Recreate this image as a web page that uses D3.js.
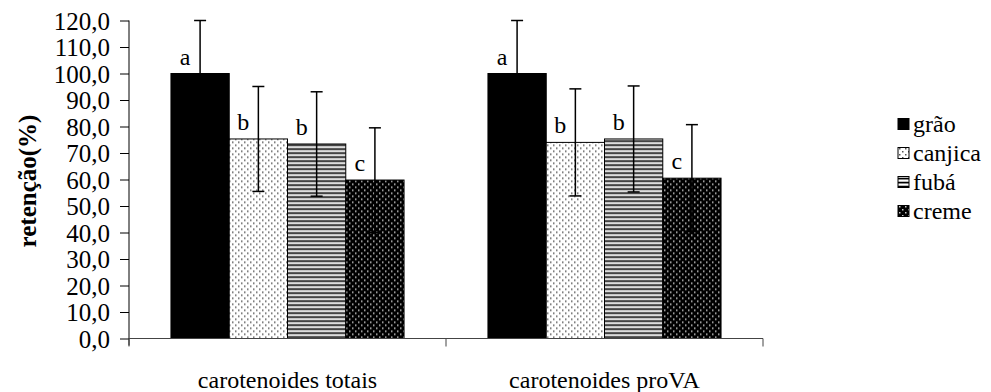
<!DOCTYPE html>
<html>
<head>
<meta charset="utf-8">
<script src="https://cdn.jsdelivr.net/npm/d3@7"></script>
<style>
  body { margin: 0; background: #fff; }
</style>
</head>
<body>
<div id="chart"></div>
<script>
// data
var categories = ["carotenoides totais", "carotenoides proVA"];
var series = ["grão", "canjica", "fubá", "creme"];
var graoValues = [100, 100], graoErr = [20, 20];
var canjicaValues = [75.3, 74.0], canjicaErr = [19.8, 20.2];
var fubaValues = [73.4, 75.3], fubaErr = [19.7, 20.0];
var cremeValues = [59.8, 60.5], cremeErr = [19.7, 20.2];
var letters = [["a", "a"], ["b", "b"], ["b", "b"], ["c", "c"]];
var yTicks = [0, 10, 20, 30, 40, 50, 60, 70, 80, 90, 100, 110, 120];

var allValues = [graoValues, canjicaValues, fubaValues, cremeValues];
var allErr = [graoErr, canjicaErr, fubaErr, cremeErr];

var FONT = "'Liberation Serif', 'Times New Roman', serif";
var width = 991, height = 392;
var margin = {top: 20.5, right: 228, bottom: 53.5, left: 129};

var svg = d3.select("#chart").append("svg")
    .attr("width", width)
    .attr("height", height)
    .style("font-family", FONT);

// patterns
var defs = svg.append("defs");

var pCanjica = defs.append("pattern").attr("id", "p-canjica")
    .attr("patternUnits", "userSpaceOnUse").attr("width", 6).attr("height", 6);
pCanjica.append("rect").attr("width", 6).attr("height", 6).attr("fill", "#fff");
pCanjica.append("rect").attr("x", 1).attr("y", 1).attr("width", 1.5).attr("height", 1.5).attr("fill", "#555");
pCanjica.append("rect").attr("x", 4).attr("y", 4).attr("width", 1.5).attr("height", 1.5).attr("fill", "#555");

var pFuba = defs.append("pattern").attr("id", "p-fuba")
    .attr("patternUnits", "userSpaceOnUse").attr("width", 4).attr("height", 4);
pFuba.append("rect").attr("width", 4).attr("height", 4).attr("fill", "#fff");
pFuba.append("rect").attr("y", 0).attr("width", 4).attr("height", 1).attr("fill", "#000");
pFuba.append("rect").attr("y", 1).attr("width", 4).attr("height", 1).attr("fill", "#888");
pFuba.append("rect").attr("y", 3).attr("width", 4).attr("height", 1).attr("fill", "#bbb");

var pCreme = defs.append("pattern").attr("id", "p-creme")
    .attr("patternUnits", "userSpaceOnUse").attr("width", 6).attr("height", 6);
pCreme.append("rect").attr("width", 6).attr("height", 6).attr("fill", "#000");
pCreme.append("rect").attr("x", 1).attr("y", 1).attr("width", 1.5).attr("height", 1.5).attr("fill", "#ccc");
pCreme.append("rect").attr("x", 4).attr("y", 4).attr("width", 1.5).attr("height", 1.5).attr("fill", "#ccc");

var fills = ["#000", "url(#p-canjica)", "url(#p-fuba)", "url(#p-creme)"];

var plotW = width - margin.left - margin.right,
    plotH = height - margin.top - margin.bottom;

var g = svg.append("g")
    .attr("transform", "translate(" + margin.left + "," + margin.top + ")");

var x0 = d3.scaleBand().domain(categories).range([0, plotW]).padding(0);
var x1 = d3.scaleBand().domain(series).range([0, x0.bandwidth()])
    .paddingInner(0).paddingOuter(0.72);
var y = d3.scaleLinear().domain([0, 120]).range([plotH, 0]);

// bars
var data = [];
categories.forEach(function(c, ci) {
  series.forEach(function(s, si) {
    data.push({cat: c, ser: s, si: si, v: allValues[si][ci], e: allErr[si][ci], lab: letters[si][ci]});
  });
});

g.selectAll(".bar")
  .data(data)
  .enter().append("rect")
    .attr("class", "bar")
    .attr("x", function(d) { return x0(d.cat) + x1(d.ser); })
    .attr("y", function(d) { return y(d.v); })
    .attr("width", x1.bandwidth())
    .attr("height", function(d) { return plotH - y(d.v); })
    .attr("fill", function(d) { return fills[d.si]; })
    .attr("stroke", "#000")
    .attr("stroke-width", 1);

// error bars
var eb = g.selectAll(".err")
  .data(data)
  .enter().append("g")
    .attr("class", "err")
    .attr("transform", function(d) { return "translate(" + (x0(d.cat) + x1(d.ser) + x1.bandwidth() / 2) + ",0)"; });
eb.append("line")
    .attr("y1", function(d) { return y(d.v - d.e); })
    .attr("y2", function(d) { return y(d.v + d.e); })
    .attr("stroke", "#000").attr("stroke-width", 1.5);
eb.append("line")
    .attr("x1", -6).attr("x2", 6)
    .attr("y1", function(d) { return y(d.v + d.e); })
    .attr("y2", function(d) { return y(d.v + d.e); })
    .attr("stroke", "#000").attr("stroke-width", 1.5);
eb.append("line")
    .attr("x1", -6).attr("x2", 6)
    .attr("y1", function(d) { return y(d.v - d.e); })
    .attr("y2", function(d) { return y(d.v - d.e); })
    .attr("stroke", "#000").attr("stroke-width", 1.5);

// letters
g.selectAll(".lab")
  .data(data)
  .enter().append("text")
    .attr("class", "lab")
    .attr("x", function(d) { return x0(d.cat) + x1(d.ser) + x1.bandwidth() / 2 - 15; })
    .attr("y", function(d) { return y(d.v) - 9; })
    .attr("text-anchor", "middle")
    .style("font-family", FONT)
    .style("font-size", "24px")
    .text(function(d) { return d.lab; });

// y axis
var yAxis = g.append("g")
    .call(d3.axisLeft(y).tickValues(yTicks).tickSize(9).tickPadding(10)
      .tickFormat(function(d) { return d3.format(".1f")(d).replace(".", ","); }));
yAxis.attr("font-family", null).attr("font-size", null);
yAxis.select(".domain").remove();
yAxis.append("line").attr("y1", 0).attr("y2", plotH + 7).attr("stroke", "#000");
yAxis.selectAll(".tick line").attr("stroke", "#000");
yAxis.selectAll("text")
    .style("font-family", FONT)
    .style("font-size", "25px")
    .attr("dy", "0.34em");

// x axis
var xAxis = g.append("g")
    .attr("transform", "translate(0," + plotH + ")");
xAxis.append("line").attr("x1", 0).attr("x2", plotW).attr("stroke", "#444");
xAxis.selectAll(".xt")
  .data([0, x0.bandwidth(), plotW])
  .enter().append("line")
    .attr("x1", function(d) { return d; }).attr("x2", function(d) { return d; })
    .attr("y1", 0).attr("y2", 8)
    .attr("stroke", "#444");
xAxis.selectAll(".xl")
  .data(categories)
  .enter().append("text")
    .attr("x", function(d) { return x0(d) + x0.bandwidth() / 2; })
    .attr("y", 49)
    .attr("text-anchor", "middle")
    .style("font-family", FONT)
    .style("font-size", "24px")
    .text(function(d) { return d; });

// y label
svg.append("text")
    .attr("transform", "translate(36,181) rotate(-90)")
    .attr("text-anchor", "middle")
    .style("font-family", FONT)
    .style("font-size", "25px")
    .style("font-weight", "bold")
    .text("retenção(%)");

// legend
var legend = svg.append("g").attr("transform", "translate(898,124)");
var li = legend.selectAll(".li")
  .data(series)
  .enter().append("g")
    .attr("transform", function(d, i) { return "translate(0," + (i * 29) + ")"; });
li.append("rect")
    .attr("x", 0).attr("y", -5.5).attr("width", 11).attr("height", 11)
    .attr("fill", function(d, i) { return fills[i]; })
    .attr("stroke", "#000");
li.append("text")
    .attr("x", 15).attr("y", 7.5)
    .style("font-family", FONT)
    .style("font-size", "24px")
    .text(function(d) { return d; });
</script>
</body>
</html>
